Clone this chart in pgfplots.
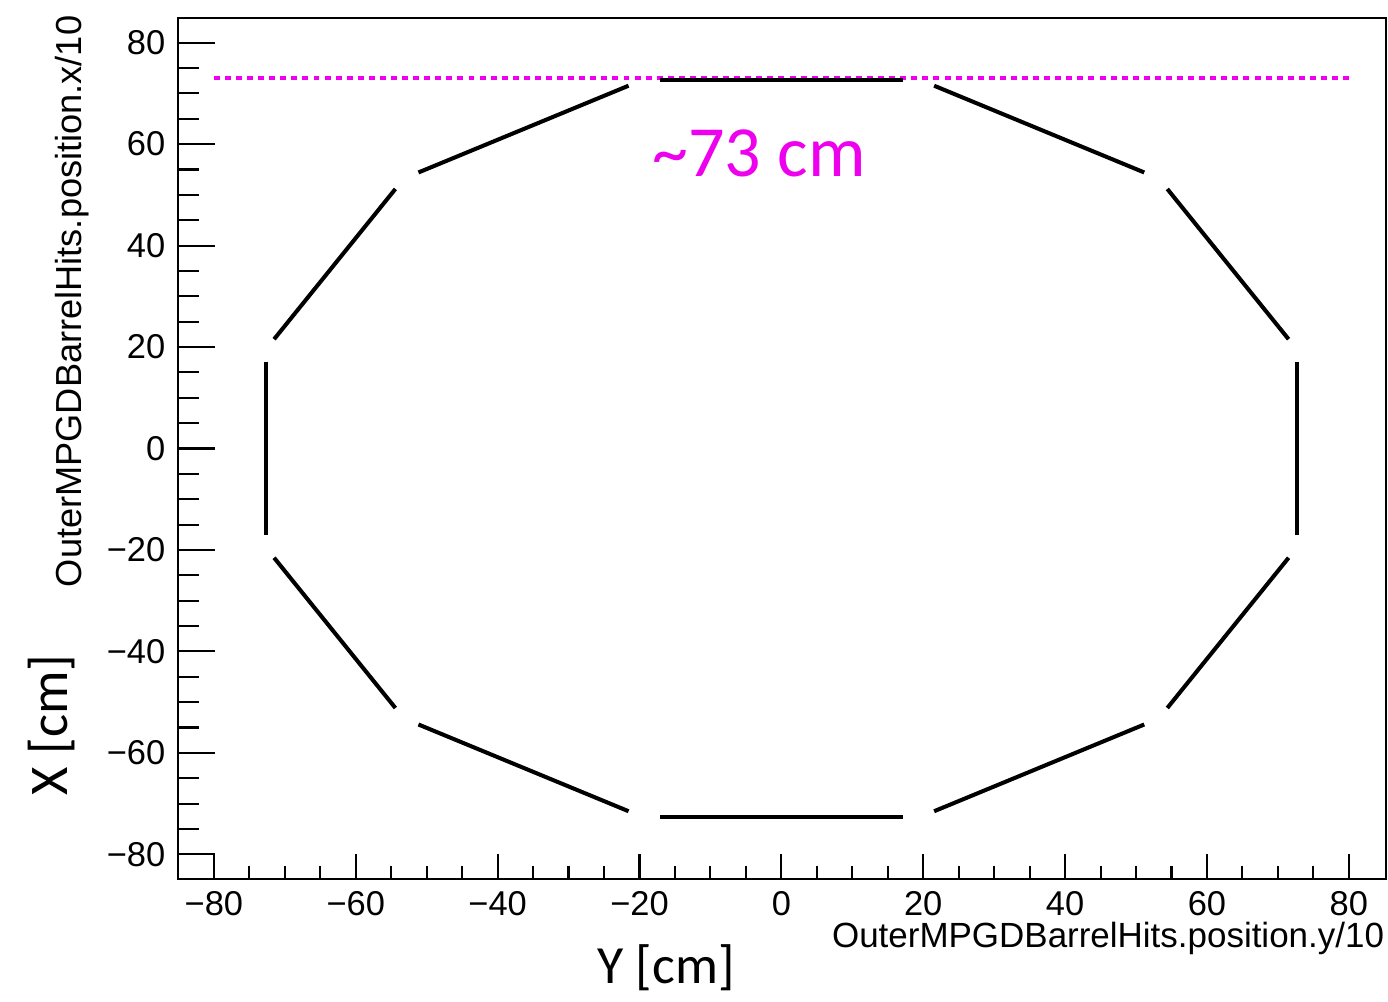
\documentclass[border=0pt]{standalone}
\usepackage{fontspec}
\setmainfont{Liberation Sans}
\newfontfamily\carlito{Carlito}
\usepackage{pgfplots}
\pgfplotsset{compat=1.18}
\definecolor{mag}{RGB}{238,0,238}
\begin{document}
\begin{tikzpicture}
\useasboundingbox (-1.777cm,-1.22cm) rectangle (12.103cm,8.79cm);
\begin{axis}[
  at={(0,0)}, anchor=south west,
  scale only axis, width=12.08cm, height=8.607cm,
  xmin=-85.1, xmax=85.2, ymin=-84.87, ymax=84.8,
  axis line style={line width=0.6pt},
  xtick={-80,-60,-40,-20,0,20,40,60,80},
  ytick={-80,-60,-40,-20,0,20,40,60,80},
  xticklabels={−80,−60,−40,−20,0,20,40,60,80},
  yticklabels={−80,−60,−40,−20,0,20,40,60,80},
  minor x tick num=3, minor y tick num=3,
  xtick pos=left, ytick pos=left,
  tick align=inside,
  /pgf/number format/assume math mode=true,
  ticklabel style={font=\fontsize{9.8}{11}\selectfont},
  x tick style={line width=0.6pt, black, /pgfplots/major tick length=0.25cm, /pgfplots/minor tick length=0.13cm},
  y tick style={line width=0.6pt, black, /pgfplots/major tick length=0.37cm, /pgfplots/minor tick length=0.21cm},
]
\addplot[mag, line width=1.3pt, dash pattern=on 1.7pt off 1.45pt] coordinates {(-80,73) (80,73)};
\addplot[black, line width=1.15pt] coordinates {(-17.1,72.7) (17.1,72.7)};
\addplot[black, line width=1.15pt] coordinates {(-21.54,71.51) (-51.16,54.41)};
\addplot[black, line width=1.15pt] coordinates {(-54.41,51.16) (-71.51,21.54)};
\addplot[black, line width=1.15pt] coordinates {(-72.7,17.1) (-72.7,-17.1)};
\addplot[black, line width=1.15pt] coordinates {(-71.51,-21.54) (-54.41,-51.16)};
\addplot[black, line width=1.15pt] coordinates {(-51.16,-54.41) (-21.54,-71.51)};
\addplot[black, line width=1.15pt] coordinates {(-17.1,-72.7) (17.1,-72.7)};
\addplot[black, line width=1.15pt] coordinates {(21.54,-71.51) (51.16,-54.41)};
\addplot[black, line width=1.15pt] coordinates {(54.41,-51.16) (71.51,-21.54)};
\addplot[black, line width=1.15pt] coordinates {(72.7,-17.1) (72.7,17.1)};
\addplot[black, line width=1.15pt] coordinates {(71.51,21.54) (54.41,51.16)};
\addplot[black, line width=1.15pt] coordinates {(51.16,54.41) (21.54,71.51)};
\end{axis}
\node[anchor=base east, inner sep=0pt, font=\fontsize{9.95}{11}\selectfont] at (12.07cm,-0.68cm) {OuterMPGDBarrelHits.position.y/10};
\node[anchor=base east, rotate=90, inner sep=0pt, font=\fontsize{10.3}{11}\selectfont] at (-0.957cm,8.64cm) {OuterMPGDBarrelHits.position.x/10};
\node[anchor=base, rotate=90, inner sep=0pt, font=\carlito\fontsize{15.5}{18}\selectfont] at (-1.097cm,1.54cm) {X [cm]};
\node[anchor=base, inner sep=0pt, font=\carlito\fontsize{15.3}{18}\selectfont] at (4.883cm,-1.04cm) {Y [cm]};
\node[anchor=base, inner sep=0pt, text=mag, font=\carlito\fontsize{20.5}{24}\selectfont] at (5.813cm,7.02cm) {\textasciitilde 73 cm};
\end{tikzpicture}
\end{document}
